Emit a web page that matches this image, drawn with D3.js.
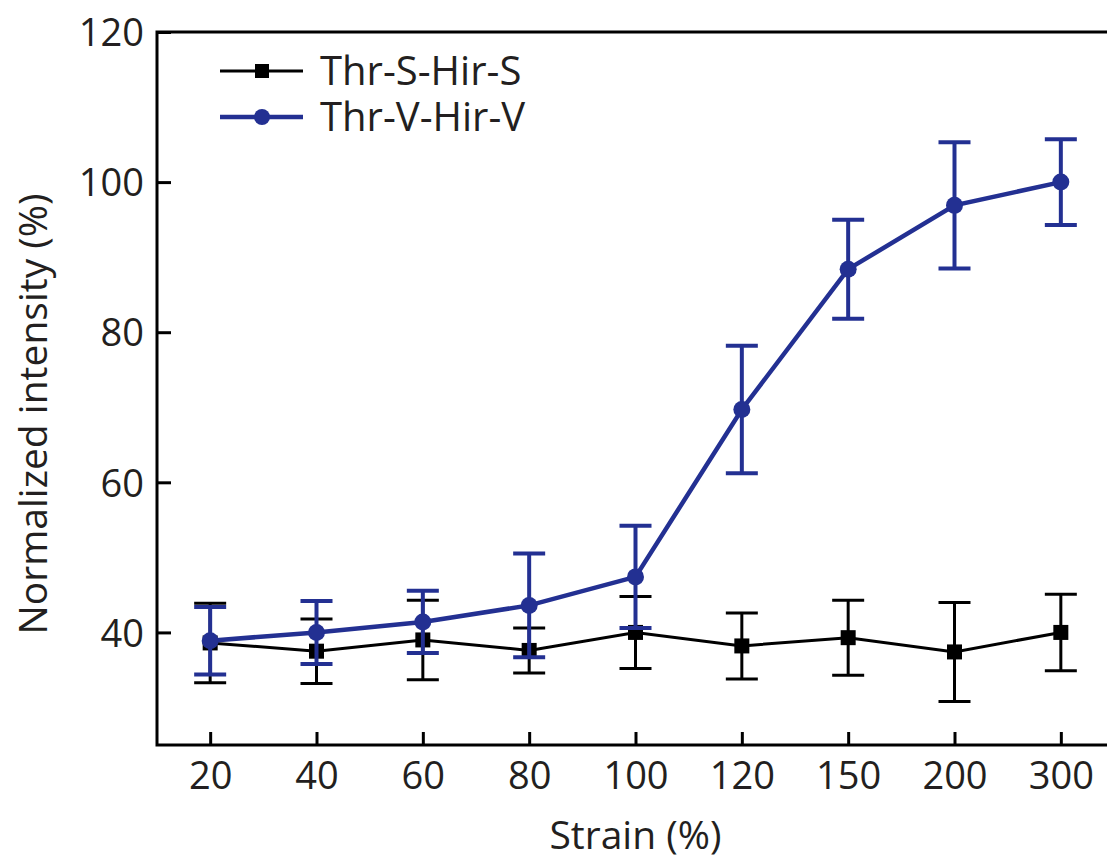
<!DOCTYPE html>
<html>
<head>
<meta charset="utf-8">
<script src="https://cdn.jsdelivr.net/npm/d3@7"></script>
<style>
  body { margin: 0; background: #fff; }
  svg { display: block; font-family: "Open Sans", sans-serif; }
  .axis text { font-size: 38px; fill: #231f20; }
  .label { font-size: 39px; fill: #231f20; }
</style>
</head>
<body>
<div id="chart"></div>
<script>
// values
var strain = ["20", "40", "60", "80", "100", "120", "150", "200", "300"]
var sMean = [38.6, 37.5, 39.0, 37.6, 40.0, 38.2, 39.3, 37.4, 40.0]
var sErr  = [5.3, 4.3, 5.3, 3.0, 4.8, 4.4, 5.0, 6.6, 5.1]
var vMean = [38.9, 40.0, 41.4, 43.6, 47.4, 69.7, 88.4, 96.9, 100.0]
var vErr  = [4.5, 4.2, 4.15, 6.9, 6.8, 8.5, 6.6, 8.4, 5.7]
var yTicks = [40, 60, 80, 100, 120]
var seriesNames = ["Thr-S-Hir-S", "Thr-V-Hir-V"]

var width = 1107, height = 861
var plotL = 157, plotT = 32, plotR = 1114, plotB = 745
var blue = "#233092", black = "#000"

var svg = d3.select("#chart").append("svg")
  .attr("width", width)
  .attr("height", height)

var x = d3.scalePoint().domain(strain).range([plotL, plotR]).padding(0.5)
var y = d3.scaleLinear().domain([25, 120]).range([plotB, plotT])

// frame
svg.append("rect")
  .attr("x", plotL).attr("y", plotT)
  .attr("width", plotR - plotL).attr("height", plotB - plotT)
  .attr("fill", "none").attr("stroke", "#000").attr("stroke-width", 3)

var xAxis = svg.append("g")
  .attr("class", "axis")
  .attr("transform", "translate(0," + plotB + ")")
  .call(d3.axisBottom(x).tickSize(-13).tickSizeOuter(0))
xAxis.select(".domain").remove()
xAxis.selectAll("line").attr("stroke-width", 3)
xAxis.selectAll("text").attr("y", 44).attr("dy", 0)

var yAxis = svg.append("g")
  .attr("class", "axis")
  .attr("transform", "translate(" + plotL + ",0)")
  .call(d3.axisLeft(y).tickValues(yTicks).tickSize(-14).tickSizeOuter(0).tickPadding(13))
yAxis.select(".domain").remove()
yAxis.selectAll("line").attr("stroke-width", 3)
yAxis.selectAll("text").attr("dy", "0.36em")

svg.selectAll(".axis").attr("font-family", null).attr("font-size", null)

function drawSeries(means, errs, color, lw, ew, marker) {
  var g = svg.append("g")
  var pts = strain.map(function(s, i) { return {s: s, m: means[i], e: errs[i]} })

  g.append("path")
    .datum(pts)
    .attr("fill", "none")
    .attr("stroke", color)
    .attr("stroke-width", lw)
    .attr("d", d3.line().x(function(d) { return x(d.s) }).y(function(d) { return y(d.m) }))

  var eb = g.selectAll(".eb").data(pts).enter().append("g")
    .attr("stroke", color).attr("stroke-width", ew)
  eb.append("line")
    .attr("x1", function(d) { return x(d.s) }).attr("x2", function(d) { return x(d.s) })
    .attr("y1", function(d) { return y(d.m - d.e) }).attr("y2", function(d) { return y(d.m + d.e) })
  eb.append("line")
    .attr("x1", function(d) { return x(d.s) - 16 }).attr("x2", function(d) { return x(d.s) + 16 })
    .attr("y1", function(d) { return y(d.m + d.e) }).attr("y2", function(d) { return y(d.m + d.e) })
  eb.append("line")
    .attr("x1", function(d) { return x(d.s) - 16 }).attr("x2", function(d) { return x(d.s) + 16 })
    .attr("y1", function(d) { return y(d.m - d.e) }).attr("y2", function(d) { return y(d.m - d.e) })

  if (marker == "square") {
    g.selectAll(".mk").data(pts).enter().append("rect")
      .attr("x", function(d) { return x(d.s) - 7.5 })
      .attr("y", function(d) { return y(d.m) - 7.5 })
      .attr("width", 15).attr("height", 15)
      .attr("fill", color)
  } else {
    g.selectAll(".mk").data(pts).enter().append("circle")
      .attr("cx", function(d) { return x(d.s) })
      .attr("cy", function(d) { return y(d.m) })
      .attr("r", 8.5)
      .attr("fill", color)
  }
}

drawSeries(sMean, sErr, black, 3, 3, "square")
drawSeries(vMean, vErr, blue, 4.5, 4, "circle")

// legend
var legend = svg.append("g")
var ly = [71, 117]
legend.append("line").attr("x1", 220).attr("x2", 303).attr("y1", ly[0]).attr("y2", ly[0])
  .attr("stroke", black).attr("stroke-width", 3)
legend.append("rect").attr("x", 255).attr("y", ly[0] - 7).attr("width", 14).attr("height", 14).attr("fill", black)
legend.append("line").attr("x1", 220).attr("x2", 303).attr("y1", ly[1]).attr("y2", ly[1])
  .attr("stroke", blue).attr("stroke-width", 4.5)
legend.append("circle").attr("cx", 262).attr("cy", ly[1]).attr("r", 8).attr("fill", blue)
legend.selectAll(".lt").data(seriesNames).enter().append("text")
  .attr("class", "label")
  .attr("x", 320)
  .attr("y", function(d, i) { return ly[i] })
  .attr("dy", "0.36em")
  .style("font-size", "40px")
  .text(function(d) { return d })

// axis titles
svg.append("text")
  .attr("class", "label")
  .attr("x", (plotL + plotR) / 2)
  .attr("y", 849)
  .attr("text-anchor", "middle")
  .text("Strain (%)")

svg.append("text")
  .attr("class", "label")
  .attr("transform", "translate(47,414)rotate(-90)")
  .attr("text-anchor", "middle")
  .text("Normalized intensity (%)")
</script>
</body>
</html>
